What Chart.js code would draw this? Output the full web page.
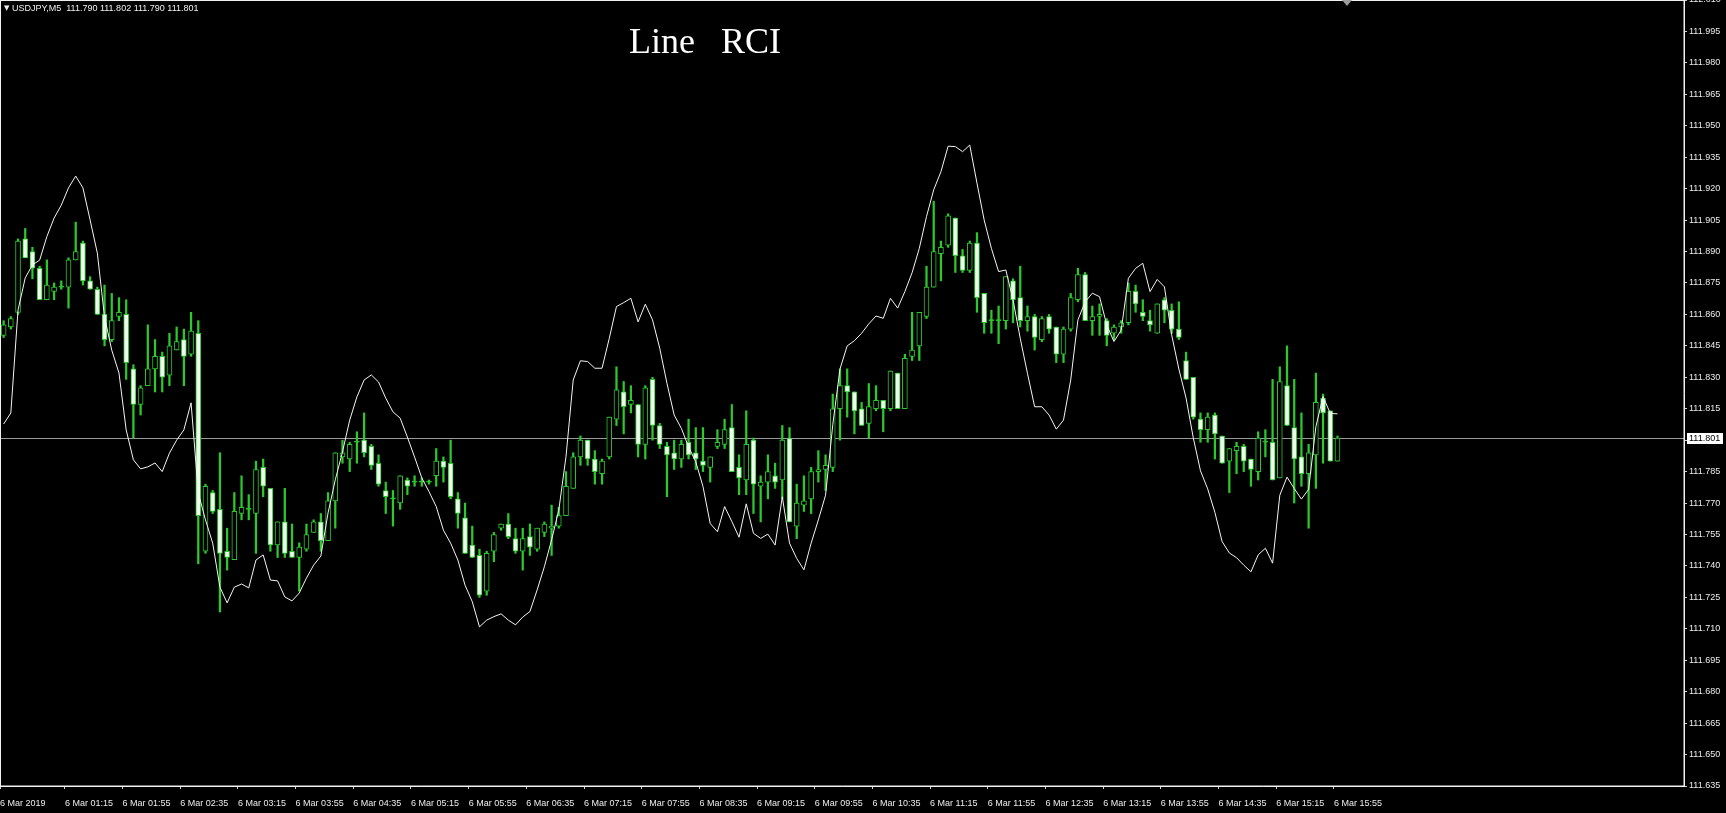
<!DOCTYPE html>
<html>
<head>
<meta charset="utf-8">
<script src="https://cdn.jsdelivr.net/npm/chart.js@4/dist/chart.umd.min.js"></script>
<style>
  html, body { margin: 0; padding: 0; background: #000; overflow: hidden; }
  #wrap { position: relative; width: 1726px; height: 813px; background: #000; }
  #c { position: absolute; left: 0; top: 0; }
  .txt { position: absolute; color: #ffffff; white-space: pre; }
  #sym { left: 4px; top: 3px; font: 9px "Liberation Sans", Arial, sans-serif; line-height: 11px; color: #f0f0f0; }
  #sym .tri { font: 7px "DejaVu Sans", sans-serif; vertical-align: 1px; }
  #title { left: 629px; top: 23px; font: 36px "Liberation Serif", "Times New Roman", serif; line-height: 36px; word-spacing: 4px; }
</style>
</head>
<body>
<div id="wrap">
  <canvas id="c" width="1726" height="813"></canvas>
  <div id="sym" class="txt"></div>
  <div id="title" class="txt">Line  RCI</div>
</div>
<script>
// ---- data (USDJPY, M5) ----
const symbol = "USDJPY,M5";
const lastBar = [111.790, 111.802, 111.790, 111.801]; // O H L C
const bidPrice = 111.801;

const open = [
111.850,111.854,111.861,111.896,111.890,111.882,111.867,111.871,111.873,111.873,
111.886,111.894,111.876,111.872,111.860,111.848,111.859,111.860,111.834,111.817,
111.826,111.834,111.840,111.831,111.843,111.848,111.841,111.851,111.747,111.775,
111.767,111.747,111.743,111.765,111.767,111.765,111.787,111.777,111.750,111.761,
111.747,111.744,111.748,111.756,111.761,111.752,111.771,111.792,111.791,111.799,
111.800,111.797,111.789,111.776,111.772,111.770,111.781,111.780,111.780,111.780,
111.783,111.790,111.789,111.772,111.763,111.750,111.745,111.728,111.747,111.758,
111.760,111.753,111.747,111.754,111.748,111.756,111.758,111.759,111.764,111.777,
111.792,111.800,111.791,111.784,111.792,111.810,111.823,111.817,111.817,111.798,
111.829,111.807,111.797,111.794,111.791,111.799,111.794,111.790,111.787,111.797,
111.798,111.806,111.787,111.781,111.800,111.778,111.780,111.783,111.781,111.801,
111.759,111.769,111.772,111.785,111.786,111.787,111.815,111.826,111.823,111.815,
111.808,111.815,111.819,111.815,111.832,111.815,111.840,111.845,111.859,111.873,
111.889,111.893,111.906,111.888,111.881,111.894,111.870,111.857,111.857,111.857,
111.876,111.868,111.857,111.859,111.848,111.859,111.854,111.841,111.853,111.867,
111.879,111.857,111.859,111.857,111.851,111.854,111.856,111.871,111.861,111.857,
111.851,111.867,111.862,111.853,111.838,111.830,111.810,111.805,111.812,111.802,
111.790,111.795,111.797,111.791,111.785,111.799,111.799,111.782,111.826,111.806,
111.792,111.784,111.793,111.820,111.814,111.790];

const high = [
111.857,111.859,111.896,111.901,111.892,111.883,111.886,111.875,111.876,111.887,
111.904,111.895,111.878,111.873,111.874,111.870,111.868,111.867,111.836,111.826,
111.855,111.848,111.842,111.851,111.854,111.853,111.861,111.857,111.779,111.776,
111.794,111.758,111.775,111.783,111.774,111.790,111.791,111.777,111.761,111.777,
111.760,111.751,111.760,111.762,111.765,111.775,111.794,111.800,111.799,111.804,
111.813,111.798,111.793,111.780,111.776,111.783,111.782,111.783,111.782,111.781,
111.796,111.792,111.800,111.775,111.770,111.759,111.748,111.747,111.756,111.760,
111.765,111.758,111.758,111.760,111.758,111.761,111.769,111.768,111.785,111.794,
111.802,111.800,111.795,111.791,111.811,111.835,111.828,111.826,111.817,111.826,
111.830,111.808,111.799,111.800,111.800,111.810,111.806,111.806,111.792,111.805,
111.810,111.817,111.793,111.814,111.801,111.783,111.793,111.789,111.807,111.806,
111.779,111.783,111.787,111.795,111.793,111.822,111.834,111.834,111.823,111.818,
111.827,111.826,111.819,111.833,111.832,111.841,111.861,111.861,111.883,111.914,
111.895,111.908,111.906,111.891,111.895,111.899,111.870,111.862,111.864,111.878,
111.877,111.883,111.864,111.860,111.859,111.860,111.854,111.854,111.870,111.882,
111.880,111.864,111.865,111.858,111.855,111.857,111.875,111.874,111.867,111.862,
111.865,111.868,111.865,111.866,111.842,111.830,111.813,111.813,111.813,111.802,
111.796,111.799,111.798,111.791,111.804,111.805,111.829,111.835,111.845,111.829,
111.813,111.798,111.832,111.822,111.814,111.802];

const low = [
111.849,111.853,111.860,111.887,111.877,111.867,111.867,111.867,111.872,111.863,
111.886,111.874,111.872,111.860,111.845,111.847,111.857,111.829,111.801,111.812,
111.826,111.823,111.823,111.826,111.843,111.826,111.840,111.741,111.746,111.765,
111.718,111.738,111.743,111.762,111.762,111.746,111.773,111.747,111.744,111.744,
111.744,111.728,111.747,111.756,111.747,111.752,111.758,111.789,111.785,111.789,
111.792,111.786,111.778,111.765,111.759,111.767,111.774,111.778,111.778,111.779,
111.778,111.780,111.772,111.758,111.746,111.744,111.725,111.726,111.742,111.757,
111.753,111.746,111.738,111.745,111.747,111.754,111.745,111.758,111.764,111.777,
111.788,111.788,111.779,111.779,111.791,111.807,111.803,111.813,111.792,111.791,
111.800,111.796,111.773,111.786,111.787,111.791,111.786,111.785,111.780,111.796,
111.796,111.785,111.774,111.774,111.765,111.761,111.772,111.777,111.772,111.761,
111.753,111.766,111.765,111.780,111.776,111.785,111.800,111.811,111.803,111.807,
111.801,111.814,111.804,111.814,111.815,111.815,111.838,111.838,111.858,111.873,
111.876,111.892,111.880,111.880,111.880,111.861,111.851,111.851,111.846,111.853,
111.856,111.854,111.852,111.843,111.847,111.851,111.837,111.837,111.852,111.866,
111.857,111.850,111.850,111.845,111.848,111.851,111.855,111.861,111.857,111.852,
111.851,111.856,111.851,111.848,111.829,111.810,111.799,111.799,111.791,111.789,
111.775,111.784,111.785,111.778,111.781,111.792,111.781,111.782,111.807,111.770,
111.778,111.758,111.777,111.789,111.790,111.790];

const close = [
111.855,111.858,111.895,111.887,111.882,111.867,111.874,111.873,111.873,111.886,
111.890,111.876,111.872,111.860,111.848,111.857,111.861,111.837,111.817,111.825,
111.834,111.840,111.830,111.845,111.847,111.840,111.852,111.764,111.778,111.766,
111.746,111.744,111.766,111.768,111.767,111.786,111.778,111.750,111.761,111.746,
111.744,111.749,111.755,111.761,111.752,111.771,111.794,111.794,111.798,111.799,
111.794,111.788,111.779,111.773,111.772,111.783,111.778,111.780,111.780,111.780,
111.790,111.787,111.773,111.765,111.746,111.744,111.726,111.746,111.755,111.760,
111.754,111.747,111.753,111.749,111.758,111.760,111.759,111.764,111.778,111.792,
111.800,111.791,111.785,111.790,111.811,111.824,111.816,111.819,111.798,111.825,
111.807,111.798,111.793,111.791,111.798,111.793,111.791,111.788,111.792,111.799,
111.805,111.785,111.782,111.798,111.779,111.780,111.785,111.780,111.800,111.761,
111.770,111.771,111.785,111.786,111.788,111.815,111.826,111.823,111.814,111.807,
111.816,111.819,111.815,111.833,111.815,111.839,111.843,111.861,111.873,111.890,
111.892,111.907,111.888,111.881,111.894,111.868,111.856,111.857,111.857,111.878,
111.867,111.857,111.859,111.849,111.858,111.853,111.841,111.853,111.868,111.879,
111.857,111.859,111.860,111.850,111.854,111.856,111.871,111.865,111.859,111.855,
111.865,111.862,111.853,111.849,111.829,111.811,111.805,111.811,111.803,111.789,
111.796,111.797,111.790,111.786,111.801,111.799,111.781,111.828,111.807,111.791,
111.784,111.794,111.818,111.813,111.790,111.801];

// Line RCI indicator (overlay, own -100..100 scale)
const rci = [
-7.9,-5.1,21.1,29.3,32.6,33.8,39.8,44.5,47.8,52.2,
55.2,52.2,44.0,35.6,19.3,10.9,5.1,-9.4,-17.0,-19.3,
-18.8,-17.8,-20.0,-15.3,-12.0,-9.4,-2.5,-25.4,-32.3,-38.2,
-49.4,-53.4,-49.4,-48.6,-49.6,-42.5,-41.2,-47.6,-47.8,-51.9,
-52.9,-50.9,-47.1,-43.8,-41.5,-30.5,-22.1,-15.0,-6.9,-1.0,
3.3,4.6,2.8,-1.3,-4.8,-6.4,-11.2,-16.3,-21.6,-25.1,
-28.9,-34.9,-38.2,-42.5,-48.9,-53.1,-59.5,-57.8,-56.9,-56.2,
-57.8,-59.0,-57.0,-55.6,-50.1,-44.2,-37.4,-29.8,-16.2,3.3,
8.2,8.0,6.3,6.3,13.9,22.0,23.0,24.1,18.1,22.6,
18.6,11.4,2.5,-5.6,-9.0,-13.7,-17.5,-23.8,-33.2,-35.3,
-28.9,-32.7,-36.7,-28.2,-35.7,-37.0,-35.9,-38.7,-26.4,-38.2,
-42.1,-45.0,-38.2,-32.3,-26.0,-8.1,6.1,12.0,13.3,15.2,
17.6,19.6,19.0,24.1,21.6,25.8,30.6,36.8,44.9,51.7,
56.3,62.8,62.7,61.4,63.1,53.4,44.0,36.8,30.9,31.3,
23.7,13.9,5.0,-3.5,-3.5,-5.6,-9.2,-6.9,3.3,18.6,
23.2,25.4,24.5,17.3,13.1,16.0,29.2,31.7,33.0,25.8,
28.9,27.0,14.8,6.1,-1.3,-11.4,-19.8,-24.4,-30.4,-37.8,
-40.7,-41.9,-43.8,-45.5,-41.2,-39.5,-43.3,-26.0,-21.4,-24.3,
-27.0,-24.5,-8.6,-0.9,-5.2,-5.3];

// time axis labels (bar index -> label)
const xTickBars = [0,9,17,25,33,41,49,57,65,73,81,89,97,105,113,121,129,137,145,153,161,169,177,185];
const xTickLabels = ["6 Mar 2019","6 Mar 01:15","6 Mar 01:55","6 Mar 02:35","6 Mar 03:15","6 Mar 03:55",
  "6 Mar 04:35","6 Mar 05:15","6 Mar 05:55","6 Mar 06:35","6 Mar 07:15","6 Mar 07:55","6 Mar 08:35",
  "6 Mar 09:15","6 Mar 09:55","6 Mar 10:35","6 Mar 11:15","6 Mar 11:55","6 Mar 12:35","6 Mar 13:15",
  "6 Mar 13:55","6 Mar 14:35","6 Mar 15:15","6 Mar 15:55"];
const yTickValues = [111.635,111.650,111.665,111.680,111.695,111.710,111.725,111.740,111.755,111.770,
  111.785,111.800,111.815,111.830,111.845,111.860,111.875,111.890,111.905,111.920,111.935,111.950,
  111.965,111.980,111.995,112.010];
const priceMin = 111.635, priceMax = 112.010;
const slotsVisible = 233.56; // chart shift: empty room to the right of the last bar

// ---- header text ----
document.getElementById('sym').innerHTML =
  '<span class="tri">\u25BC</span> ' + symbol + '  ' + lastBar.map(v => v.toFixed(3)).join(' ');

// ---- chart ----
const GREEN = '#2cc82c';
const BEAR_FILL = '#eeffee';
const AXIS_TXT = '#ececec';
const FONT = { family: '"Liberation Sans", Arial, sans-serif', size: 9 };

const wickData = high.map((h, i) => ({ x: i, y: [low[i], h] }));
const bodyData = open.map((o, i) => ({ x: i, y: [o, close[i]] }));
const rciData = rci.map((v, i) => ({ x: i, y: v }));

const decor = {
  id: 'decor',
  beforeDatasetsDraw(chart) {
    const { ctx, chartArea: a, scales } = chart;
    const y = Math.round(scales.y.getPixelForValue(bidPrice)) + 0.5;
    ctx.save();
    ctx.strokeStyle = '#9a9a9a';
    ctx.lineWidth = 1;
    ctx.beginPath(); ctx.moveTo(a.left, y); ctx.lineTo(a.right, y); ctx.stroke();
    ctx.restore();
  },
  afterDraw(chart) {
    const { ctx, chartArea: a, scales } = chart;
    ctx.save();
    // frame
    ctx.strokeStyle = '#f0f0f0';
    ctx.lineWidth = 1;
    ctx.strokeRect(a.left + 0.5, a.top + 0.5, a.right - a.left - 0.5, a.bottom - a.top - 0.5);
    // bid price label on the price scale
    const y = Math.round(scales.y.getPixelForValue(bidPrice));
    ctx.fillStyle = '#ffffff';
    ctx.fillRect(a.right + 3, y - 5, 36, 11);
    ctx.fillStyle = '#000000';
    ctx.font = '9px "Liberation Sans", Arial, sans-serif';
    ctx.textBaseline = 'middle';
    ctx.textAlign = 'left';
    ctx.fillText(bidPrice.toFixed(3), a.right + 5, y + 0.5);
    // chart-shift marker
    ctx.fillStyle = '#9c9c9c';
    ctx.beginPath(); ctx.moveTo(1342, 0); ctx.lineTo(1352, 0); ctx.lineTo(1347, 6); ctx.closePath(); ctx.fill();
    ctx.restore();
  }
};

new Chart(document.getElementById('c'), {
  type: 'bar',
  data: {
    datasets: [
      { type: 'line', label: 'RCI', data: rciData, yAxisID: 'yRci', xAxisID: 'x',
        borderColor: '#f4f4f4', borderWidth: 1, pointRadius: 0, tension: 0, order: 0 },
      { type: 'bar', label: 'body', data: bodyData, yAxisID: 'y', xAxisID: 'x',
        grouped: false, barThickness: 5, minBarLength: 1, borderWidth: 1, borderSkipped: false,
        borderColor: GREEN,
        backgroundColor: (c) => {
          const i = c.dataIndex;
          if (close[i] < open[i]) return BEAR_FILL;
          if (close[i] === open[i]) return GREEN;
          return '#000000';
        },
        order: 1 },
      { type: 'bar', label: 'wick', data: wickData, yAxisID: 'y', xAxisID: 'x',
        grouped: false, barThickness: 1.6, borderWidth: 0, backgroundColor: GREEN, order: 2 }
    ]
  },
  options: {
    responsive: false,
    animation: false,
    devicePixelRatio: 1,
    layout: { padding: 0 },
    plugins: { legend: { display: false }, tooltip: { enabled: false }, title: { display: false } },
    scales: {
      x: {
        type: 'linear', position: 'bottom', min: -0.5, max: slotsVisible - 0.5, offset: false,
        grid: { display: true, offset: false, drawOnChartArea: false, drawTicks: true, tickLength: 3, color: '#d0d0d0' },
        border: { display: true, color: '#f0f0f0' },
        ticks: { color: AXIS_TXT, font: FONT, padding: 9, align: 'start', maxRotation: 0, autoSkip: false,
          callback: (v, idx) => xTickLabels[idx] },
        afterBuildTicks: (s) => { s.ticks = xTickBars.map(b => ({ value: b - 0.5 })); },
        afterFit: (s) => { s.height = 27; s.paddingLeft = 0; s.paddingRight = 0; }
      },
      y: {
        type: 'linear', position: 'right', min: priceMin, max: priceMax,
        grid: { display: true, drawOnChartArea: false, drawTicks: true, tickLength: 3, color: '#d0d0d0' },
        border: { display: true, color: '#f0f0f0' },
        ticks: { color: AXIS_TXT, font: FONT, padding: 2, callback: (v) => Number(v).toFixed(3) },
        afterBuildTicks: (s) => { s.ticks = yTickValues.map(v => ({ value: v })); },
        afterFit: (s) => { s.width = 42; s.paddingTop = 0; s.paddingBottom = 0; }
      },
      yRci: { type: 'linear', axis: 'y', position: 'left', display: false, min: -100, max: 100 }
    }
  },
  plugins: [decor]
});
</script>
</body>
</html>
